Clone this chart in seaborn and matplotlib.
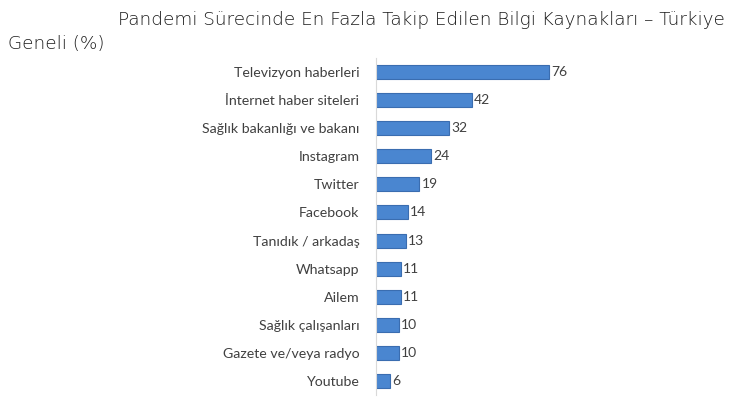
import matplotlib
matplotlib.use("Agg")
import matplotlib.pyplot as plt
import seaborn as sns
import pandas as pd
import numpy as np

categories = ["Televizyon haberleri", "İnternet haber siteleri", "Sağlık bakanlığı ve bakanı",
              "Instagram", "Twitter", "Facebook", "Tanıdık / arkadaş", "Whatsapp", "Ailem",
              "Sağlık çalışanları", "Gazete ve/veya radyo", "Youtube"]
values = [76, 42, 32, 24, 19, 14, 13, 11, 11, 10, 10, 6]
title_line1 = "Pandemi Sürecinde En Fazla Takip Edilen Bilgi Kaynakları – Türkiye"
title_line2 = "Geneli (%)"

sns.set_theme(style="white")
plt.rcParams['font.family'] = ['Lato', 'DejaVu Sans']

df = pd.DataFrame({"kaynak": categories, "deger": values})

fig = plt.figure(figsize=(7.5, 4.07), dpi=100)
ax = fig.add_axes([376/750, (407-395)/407, (745-376)/750, (395-58)/407])

sns.barplot(data=df, x="deger", y="kaynak", orient="h", color="#4A86D0",
            edgecolor="#3A6DB0", linewidth=0.8, width=0.5, saturation=1, ax=ax)

for i, v in enumerate(values):
    ax.text(v + 1.0, i, str(v), va="center", ha="left", fontsize=10, color="#404040")

ax.set_xlim(0, 162)
ax.set_ylim(len(categories) - 0.5, -0.5)
ax.set_xlabel("")
ax.set_ylabel("")
ax.set_xticks([])
for s in ["top", "right", "bottom"]:
    ax.spines[s].set_visible(False)
ax.spines["left"].set_color("#D9D9D9")
ax.spines["left"].set_linewidth(0.8)
ax.tick_params(axis="y", which="major", length=0, pad=12, labelsize=10.2, labelcolor="#404040")
ax.set_yticks(np.arange(-0.5, len(categories), 1.0), minor=True)
ax.tick_params(axis="y", which="minor", length=4, color="#D9D9D9", width=0.8)

fig.text(118/750, 1 - 20/407, title_line1, fontsize=13.2, color="#1A1A1A", va="center", ha="left",
         family=["DejaVu Sans"], fontweight="light")
fig.text(8/750, 1 - 44/407, title_line2, fontsize=13.2, color="#1A1A1A", va="center", ha="left",
         family=["DejaVu Sans"], fontweight="light")

fig.savefig("out.png", dpi=100)
